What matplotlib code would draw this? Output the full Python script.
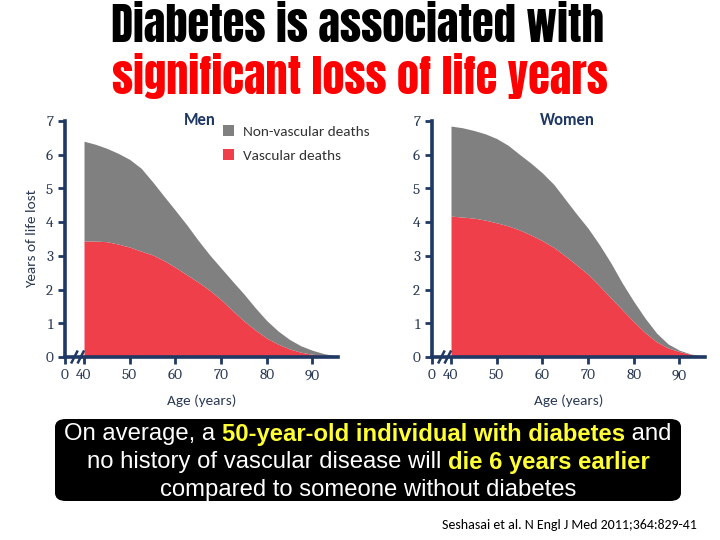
import matplotlib
matplotlib.use("Agg")
import matplotlib.pyplot as plt
from matplotlib import font_manager
from matplotlib.patches import FancyBboxPatch, Patch

# ages (years) at which the curves were read
ages = [40, 42.5, 45, 47.5, 50, 52.5, 55, 57.5, 60, 62.5, 65, 67.5, 70,
        72.5, 75, 77.5, 80, 82.5, 85, 87.5, 90, 92.5, 95]

# Men: total years lost (top of grey) and vascular part (red)
men_total = [6.40, 6.31, 6.19, 6.04, 5.86, 5.60, 5.20, 4.77, 4.35, 3.92, 3.46, 3.03, 2.64,
             2.25, 1.87, 1.46, 1.08, 0.77, 0.52, 0.33, 0.20, 0.10, 0.04]
men_vascular = [3.44, 3.44, 3.42, 3.35, 3.26, 3.14, 3.03, 2.86, 2.66, 2.44, 2.22, 1.98, 1.70,
                1.38, 1.07, 0.80, 0.56, 0.38, 0.24, 0.14, 0.08, 0.05, 0.02]

# Women
women_total = [6.85, 6.80, 6.72, 6.62, 6.48, 6.28, 6.01, 5.75, 5.46, 5.12, 4.68, 4.24, 3.82,
               3.33, 2.79, 2.19, 1.65, 1.15, 0.71, 0.39, 0.20, 0.09, 0.03]
women_vascular = [4.18, 4.15, 4.12, 4.06, 3.98, 3.89, 3.77, 3.62, 3.45, 3.25, 3.00, 2.73, 2.45,
                  2.11, 1.75, 1.40, 1.05, 0.72, 0.45, 0.27, 0.16, 0.08, 0.02]

x_ticks = [40, 50, 60, 70, 80, 90]
y_ticks = [0, 1, 2, 3, 4, 5, 6, 7]

GREY = "#808080"
RED = "#EE3F4A"
NAVY = "#1F3864"
TXT = "#2B3A55"
X_MIN, X_MAX = 35.84, 95.6

installed = {f.name for f in font_manager.fontManager.ttflist}


def pick(*cands):
    for c in cands:
        if c in installed:
            return c
    return "DejaVu Sans"


IMPACT = pick("Anton", "Oswald", "Bebas Neue", "Fjalla One", "DejaVu Sans")
NARROW = pick("Carlito", "Roboto Condensed", "Archivo Narrow", "Open Sans")
CALIBRI = pick("Carlito", "Open Sans")
CAMBRIA = pick("Caladea", "DejaVu Serif")
ARIAL = pick("Liberation Sans", "Arimo", "DejaVu Sans")

fig = plt.figure(figsize=(7.2, 5.4), dpi=100)
renderer = fig.canvas.get_renderer()


def fit_text(t, width_px):
    # scale a text so its width matches the reference width
    w = t.get_window_extent(renderer).width
    t.set_fontsize(t.get_fontsize() * width_px / w)


# title (two coloured lines)
t1 = fig.text(358 / 720, 1 - 26 / 540, "Diabetes is associated with", ha="center", va="center",
              family=IMPACT, fontsize=30, color="black")
t2 = fig.text(360 / 720, 1 - 76 / 540, "significant loss of life years", ha="center", va="center",
              family=IMPACT, fontsize=30, color="#FF0000")
fit_text(t1, 493)
fit_text(t2, 495)

ax_m = fig.add_axes([65 / 720, 1 - 357 / 540, 273 / 720, 236 / 540])
ax_w = fig.add_axes([432 / 720, 1 - 357 / 540, 273 / 720, 236 / 540])

for ax, total, vasc, name, cx in [(ax_m, men_total, men_vascular, "Men", 200),
                                  (ax_w, women_total, women_vascular, "Women", 567)]:
    ax.fill_between(ages, 0, vasc, color=RED, lw=0, zorder=1)
    ax.fill_between(ages, vasc, total, color=GREY, lw=0, zorder=1)
    ax.set_xlim(X_MIN, X_MAX)
    ax.set_ylim(0, 7)
    for s in ["top", "right"]:
        ax.spines[s].set_visible(False)
    for s in ["left", "bottom"]:
        ax.spines[s].set_color(NAVY)
        ax.spines[s].set_linewidth(2.6)
    ax.set_xticks([X_MIN] + x_ticks)
    ax.set_xticklabels(["0"] + [str(t) for t in x_ticks])
    ax.set_yticks(y_ticks)
    ax.tick_params(axis="both", colors=NAVY, width=2, length=5, labelcolor=TXT,
                   labelsize=11)
    for lab in ax.get_xticklabels() + ax.get_yticklabels():
        lab.set_family(CAMBRIA)
    ax.set_xlabel("Age (years)", family=CALIBRI, fontsize=11, color=TXT, labelpad=9)
    ax.patch.set_alpha(0)
    # axis break marks
    for x0 in (37.3, 38.7):
        ax.plot([x0, x0 + 1.2], [-0.16, 0.16], color=NAVY, lw=1.8, clip_on=False, zorder=5)
    fig.text(cx / 720, 1 - 120 / 540, name, ha="center", va="center",
             family=CALIBRI, weight="bold", fontsize=12, color=NAVY)

ax_m.set_ylabel("Years of life lost", family=CALIBRI, fontsize=11, color=TXT, labelpad=5)

handles = [Patch(facecolor=GREY, edgecolor="none", label="Non-vascular deaths"),
           Patch(facecolor=RED, edgecolor="none", label="Vascular deaths")]
leg = fig.legend(handles=handles, loc="upper left", bbox_to_anchor=(209 / 720, 1 - 111 / 540),
                 frameon=False, handlelength=0.75, handleheight=0.75, handletextpad=0.6,
                 labelspacing=0.75, prop={"family": CALIBRI, "size": 11})
for t in leg.get_texts():
    t.set_color("#333333")

# black summary box with highlighted text
box = FancyBboxPatch((55 / 720, 1 - 501 / 540), 626 / 720, 82 / 540,
                     boxstyle="round,pad=0,rounding_size=0.015", transform=fig.transFigure,
                     facecolor="black", edgecolor="none")
fig.patches.append(box)

lines = [
    [("On average, a ", "white", "normal"), ("50-year-old individual with diabetes", "#FFFF33", "bold"),
     (" and", "white", "normal")],
    [("no history of vascular disease will ", "white", "normal"), ("die 6 years earlier", "#FFFF33", "bold")],
    [("compared to someone without diabetes", "white", "normal")],
]
line_y = [434, 462, 490]


def draw_line(parts, py, size):
    texts = []
    x = 0.0
    for s, c, w in parts:
        t = fig.text(x, 1 - py / 540, s, ha="left", va="center", color=c, weight=w,
                     family=ARIAL, fontsize=size)
        texts.append(t)
        x += t.get_window_extent(renderer).width / fig.bbox.width
    start = 368 / 720 - x / 2
    off = 0.0
    for t in texts:
        t.set_x(start + off)
        off += t.get_window_extent(renderer).width / fig.bbox.width
    return texts, x * fig.bbox.width


# size the box text so the first line spans the same width as in the reference
probe, w0 = draw_line(lines[0], line_y[0], 15)
for t in probe:
    t.remove()
box_size = 15 * 611 / w0
for parts, py in zip(lines, line_y):
    draw_line(parts, py, box_size)

cite = fig.text(697 / 720, 1 - 525 / 540, "Seshasai et al. N Engl J Med 2011;364:829-41",
                ha="right", va="center", family=NARROW, fontsize=10, color="black")
fit_text(cite, 256)

fig.savefig("out.png", dpi=100)
